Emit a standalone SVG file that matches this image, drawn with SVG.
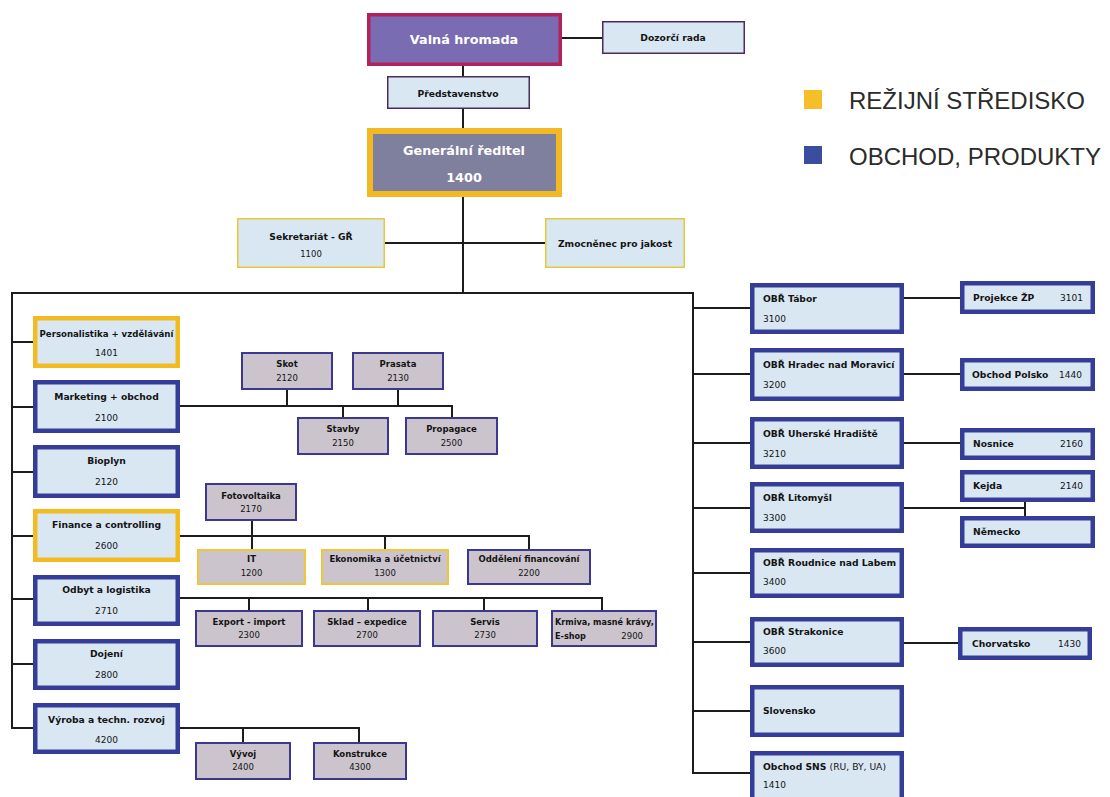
<svg xmlns="http://www.w3.org/2000/svg" width="1110" height="797" viewBox="0 0 1110 797">
  <style>
    .ln { stroke: #1c1c1c; stroke-width: 2; fill: none; }
    .bx-blue { fill: #d9e7f3; stroke: #363d98; stroke-width: 4.5; }
    .bx-yel { fill: #d9e7f3; stroke: #f2bb22; stroke-width: 4.5; }
    .gr-blue { fill: #cbc4cc; stroke: #3c3892; stroke-width: 2; }
    .gr-yel { fill: #cbc4cc; stroke: #efc53a; stroke-width: 2; }
    .lt-yel { fill: #d9e7f3; stroke: #e6c93a; stroke-width: 1.5; }
    .lt-dark { fill: #d9e7f3; stroke: #4a2b5c; stroke-width: 1.5; }
    text { font-family: "DejaVu Sans", Verdana, sans-serif; fill: #141414; }
    .nm { font-size: 9.2px; font-weight: bold; }
    .nm-s { font-size: 8.5px; font-weight: bold; }
    .no { font-size: 9px; }
    .no-s { font-size: 8.5px; }
    .c { text-anchor: middle; }
    .e { text-anchor: end; }
    .hd { font-size: 12.8px; font-weight: bold; fill: #ffffff; text-anchor: middle; }
    .lg { font-family: "Liberation Sans", Arial, sans-serif; font-size: 24px; fill: #2b2b2b; }
  </style>

  <rect width="1110" height="797" fill="#ffffff"/>

  <!-- connectors -->
  <g id="connectors">
    <!-- top management chain -->
    <line class="ln" x1="562" y1="38" x2="602" y2="38"/>
    <line class="ln" x1="463" y1="66" x2="463" y2="76"/>
    <line class="ln" x1="463" y1="109" x2="463" y2="128"/>
    <line class="ln" x1="463" y1="197" x2="463" y2="293"/>
    <line class="ln" x1="385" y1="243" x2="545" y2="243"/>
    <!-- main distribution bar -->
    <polyline class="ln" points="33,728 12,728 12,293 693,293 693,773 750,773"/>
    <!-- left branch stubs -->
    <line class="ln" x1="12" y1="342" x2="33" y2="342"/>
    <line class="ln" x1="12" y1="407" x2="33" y2="407"/>
    <line class="ln" x1="12" y1="472" x2="33" y2="472"/>
    <line class="ln" x1="12" y1="536" x2="33" y2="536"/>
    <line class="ln" x1="12" y1="599" x2="33" y2="599"/>
    <line class="ln" x1="12" y1="664" x2="33" y2="664"/>
    <!-- marketing sub-units -->
    <line class="ln" x1="180" y1="406" x2="452" y2="406"/>
    <line class="ln" x1="287" y1="390" x2="287" y2="406"/>
    <line class="ln" x1="398" y1="390" x2="398" y2="406"/>
    <line class="ln" x1="343" y1="406" x2="343" y2="417"/>
    <line class="ln" x1="452" y1="405" x2="452" y2="417"/>
    <!-- finance sub-units -->
    <line class="ln" x1="180" y1="536" x2="529" y2="536"/>
    <line class="ln" x1="252" y1="521" x2="252" y2="549"/>
    <line class="ln" x1="385" y1="536" x2="385" y2="549"/>
    <line class="ln" x1="529" y1="535" x2="529" y2="549"/>
    <!-- logistics sub-units -->
    <line class="ln" x1="180" y1="598" x2="602" y2="598"/>
    <line class="ln" x1="249" y1="598" x2="249" y2="610"/>
    <line class="ln" x1="368" y1="598" x2="368" y2="610"/>
    <line class="ln" x1="484" y1="598" x2="484" y2="610"/>
    <line class="ln" x1="602" y1="597" x2="602" y2="610"/>
    <!-- production sub-units -->
    <line class="ln" x1="180" y1="728" x2="359" y2="728"/>
    <line class="ln" x1="243" y1="728" x2="243" y2="742"/>
    <line class="ln" x1="359" y1="727" x2="359" y2="742"/>
    <!-- right branch stubs -->
    <line class="ln" x1="693" y1="308" x2="750" y2="308"/>
    <line class="ln" x1="693" y1="374" x2="750" y2="374"/>
    <line class="ln" x1="693" y1="443" x2="750" y2="443"/>
    <line class="ln" x1="693" y1="508" x2="750" y2="508"/>
    <line class="ln" x1="693" y1="573" x2="750" y2="573"/>
    <line class="ln" x1="693" y1="642" x2="750" y2="642"/>
    <line class="ln" x1="693" y1="711" x2="750" y2="711"/>
    <!-- regional sub-units -->
    <line class="ln" x1="904" y1="298" x2="960" y2="298"/>
    <line class="ln" x1="904" y1="374" x2="960" y2="374"/>
    <line class="ln" x1="904" y1="443" x2="960" y2="443"/>
    <polyline class="ln" points="904,508 1025,508"/>
    <line class="ln" x1="1025" y1="501" x2="1025" y2="516"/>
    <line class="ln" x1="904" y1="643" x2="958" y2="643"/>
  </g>

  <!-- legend -->
  <g id="legend">
    <rect x="804" y="90" width="18" height="19" fill="#f6bf2a"/>
    <text class="lg" x="849" y="109">REŽIJNÍ STŘEDISKO</text>
    <rect x="804" y="146" width="18" height="18" fill="#3a4d9e"/>
    <text class="lg" x="849" y="165">OBCHOD, PRODUKTY</text>
  </g>

  <!-- top management -->
  <g id="valna-hromada">
    <rect x="368.75" y="14.75" width="191.5" height="49.5" fill="#7a6cb2" stroke="#b3225c" stroke-width="3.5"/>
    <text class="hd" x="464" y="44">Valná hromada</text>
  </g>
  <g id="dozorci-rada">
    <rect class="lt-dark" x="602.75" y="21.75" width="141.5" height="31.5"/>
    <text class="nm c" x="673" y="41">Dozorčí rada</text>
  </g>
  <g id="predstavenstvo">
    <rect class="lt-dark" x="387.75" y="76.75" width="141.5" height="31.5"/>
    <text class="nm c" x="458" y="97">Představenstvo</text>
  </g>
  <g id="generalni-reditel">
    <rect x="370" y="131" width="189" height="63" fill="#7f7f9e" stroke="#f3b925" stroke-width="6"/>
    <text class="hd" x="464" y="155">Generální ředitel</text>
    <text class="hd" x="464" y="182">1400</text>
  </g>
  <g id="sekretariat">
    <rect class="lt-yel" x="237.75" y="218.75" width="146.5" height="48.5"/>
    <text class="nm c" x="311" y="240">Sekretariát - GŘ</text>
    <text class="no-s c" x="311" y="257">1100</text>
  </g>
  <g id="zmocnenec">
    <rect class="lt-yel" x="545.75" y="218.75" width="138.5" height="48.5"/>
    <text class="nm c" x="615" y="247">Zmocněnec pro jakost</text>
  </g>

  <!-- left column -->
  <g id="personalistika">
    <rect class="bx-yel" x="35.25" y="318.25" width="142.5" height="47.5"/>
    <text class="nm c" x="106.5" y="337" style="font-size:8.6px">Personalistika + vzdělávání</text>
    <text class="no c" x="106.5" y="356">1401</text>
  </g>
  <g id="marketing">
    <rect class="bx-blue" x="35.25" y="382.25" width="142.5" height="48.5"/>
    <text class="nm c" x="106.5" y="400">Marketing + obchod</text>
    <text class="no c" x="106.5" y="421">2100</text>
  </g>
  <g id="bioplyn">
    <rect class="bx-blue" x="35.25" y="447.25" width="142.5" height="48.5"/>
    <text class="nm c" x="106.5" y="464">Bioplyn</text>
    <text class="no c" x="106.5" y="485">2120</text>
  </g>
  <g id="finance">
    <rect class="bx-yel" x="35.25" y="511.25" width="142.5" height="48.5"/>
    <text class="nm c" x="106.5" y="528">Finance a controlling</text>
    <text class="no c" x="106.5" y="549">2600</text>
  </g>
  <g id="odbyt">
    <rect class="bx-blue" x="35.25" y="577.25" width="142.5" height="46.5"/>
    <text class="nm c" x="106.5" y="593">Odbyt a logistika</text>
    <text class="no c" x="106.5" y="614">2710</text>
  </g>
  <g id="dojeni">
    <rect class="bx-blue" x="35.25" y="641.25" width="142.5" height="46.5"/>
    <text class="nm c" x="106.5" y="657">Dojení</text>
    <text class="no c" x="106.5" y="678">2800</text>
  </g>
  <g id="vyroba">
    <rect class="bx-blue" x="35.25" y="705.25" width="142.5" height="46.5"/>
    <text class="nm c" x="106.5" y="723">Výroba a techn. rozvoj</text>
    <text class="no c" x="106.5" y="743">4200</text>
  </g>

  <!-- marketing sub-units -->
  <g id="skot">
    <rect class="gr-blue" x="242" y="353" width="90" height="36"/>
    <text class="nm-s c" x="287" y="367">Skot</text>
    <text class="no-s c" x="287" y="381">2120</text>
  </g>
  <g id="prasata">
    <rect class="gr-blue" x="353" y="353" width="90" height="36"/>
    <text class="nm-s c" x="398" y="367">Prasata</text>
    <text class="no-s c" x="398" y="381">2130</text>
  </g>
  <g id="stavby">
    <rect class="gr-blue" x="298" y="418" width="90" height="36"/>
    <text class="nm-s c" x="343" y="432">Stavby</text>
    <text class="no-s c" x="343" y="446">2150</text>
  </g>
  <g id="propagace">
    <rect class="gr-blue" x="406" y="418" width="91" height="36"/>
    <text class="nm-s c" x="451.5" y="432">Propagace</text>
    <text class="no-s c" x="451.5" y="446">2500</text>
  </g>

  <!-- finance sub-units -->
  <g id="fotovoltaika">
    <rect class="gr-blue" x="206" y="484" width="90" height="36"/>
    <text class="nm-s c" x="251" y="499">Fotovoltaika</text>
    <text class="no-s c" x="251" y="512">2170</text>
  </g>
  <g id="it">
    <rect class="gr-yel" x="198" y="550" width="107" height="34"/>
    <text class="nm-s c" x="251.5" y="562">IT</text>
    <text class="no-s c" x="251.5" y="576">1200</text>
  </g>
  <g id="ekonomika">
    <rect class="gr-yel" x="322" y="550" width="126" height="34"/>
    <text class="nm-s c" x="385" y="562">Ekonomika a účetnictví</text>
    <text class="no-s c" x="385" y="576">1300</text>
  </g>
  <g id="financovani">
    <rect class="gr-blue" x="468" y="550" width="122" height="34"/>
    <text class="nm-s c" x="529" y="562">Oddělení financování</text>
    <text class="no-s c" x="529" y="576">2200</text>
  </g>

  <!-- logistics sub-units -->
  <g id="export">
    <rect class="gr-blue" x="196" y="611" width="106" height="35"/>
    <text class="nm-s c" x="249" y="625">Export - import</text>
    <text class="no-s c" x="249" y="638">2300</text>
  </g>
  <g id="sklad">
    <rect class="gr-blue" x="314" y="611" width="106" height="35"/>
    <text class="nm-s c" x="367" y="625">Sklad – expedice</text>
    <text class="no-s c" x="367" y="638">2700</text>
  </g>
  <g id="servis">
    <rect class="gr-blue" x="433" y="611" width="104" height="35"/>
    <text class="nm-s c" x="485" y="625">Servis</text>
    <text class="no-s c" x="485" y="638">2730</text>
  </g>
  <g id="krmiva">
    <rect class="gr-blue" x="552" y="611" width="104" height="35"/>
    <text class="nm-s" x="555" y="625" style="font-size:8.1px">Krmiva, masné krávy,</text>
    <text class="nm-s" x="555" y="639" style="font-size:8.1px">E-shop</text>
    <text class="no-s e" x="643" y="639">2900</text>
  </g>

  <!-- production sub-units -->
  <g id="vyvoj">
    <rect class="gr-blue" x="196" y="743" width="94" height="36"/>
    <text class="nm-s c" x="243" y="757">Vývoj</text>
    <text class="no-s c" x="243" y="770">2400</text>
  </g>
  <g id="konstrukce">
    <rect class="gr-blue" x="314" y="743" width="92" height="36"/>
    <text class="nm-s c" x="360" y="757">Konstrukce</text>
    <text class="no-s c" x="360" y="770">4300</text>
  </g>

  <!-- right column: regional branches -->
  <g id="obr-tabor">
    <rect class="bx-blue" x="752.25" y="285.25" width="149.5" height="46.5"/>
    <text class="nm" x="763" y="302">OBŘ Tábor</text>
    <text class="no" x="763" y="322">3100</text>
  </g>
  <g id="obr-hradec">
    <rect class="bx-blue" x="752.25" y="350.25" width="149.5" height="48.5"/>
    <text class="nm" x="763" y="368">OBŘ Hradec nad Moravicí</text>
    <text class="no" x="763" y="388">3200</text>
  </g>
  <g id="obr-uherske">
    <rect class="bx-blue" x="752.25" y="419.25" width="149.5" height="47.5"/>
    <text class="nm" x="763" y="437">OBŘ Uherské Hradiště</text>
    <text class="no" x="763" y="457">3210</text>
  </g>
  <g id="obr-litomysl">
    <rect class="bx-blue" x="752.25" y="484.25" width="149.5" height="46.5"/>
    <text class="nm" x="763" y="501">OBŘ Litomyšl</text>
    <text class="no" x="763" y="521">3300</text>
  </g>
  <g id="obr-roudnice">
    <rect class="bx-blue" x="752.25" y="550.25" width="149.5" height="45.5"/>
    <text class="nm" x="763" y="566">OBŘ Roudnice nad Labem</text>
    <text class="no" x="763" y="585">3400</text>
  </g>
  <g id="obr-strakonice">
    <rect class="bx-blue" x="752.25" y="619.25" width="149.5" height="45.5"/>
    <text class="nm" x="763" y="635">OBŘ Strakonice</text>
    <text class="no" x="763" y="654">3600</text>
  </g>
  <g id="slovensko">
    <rect class="bx-blue" x="752.25" y="687.25" width="149.5" height="47.5"/>
    <text class="nm" x="763" y="714">Slovensko</text>
  </g>
  <g id="obchod-sns">
    <rect class="bx-blue" x="752.25" y="753.25" width="149.5" height="52"/>
    <text class="nm" x="763" y="770">Obchod SNS <tspan font-weight="normal">(RU, BY, UA)</tspan></text>
    <text class="no" x="763" y="788">1410</text>
  </g>

  <!-- right column: attached units -->
  <g id="projekce">
    <rect class="bx-blue" x="962.25" y="283.25" width="130.5" height="28.5"/>
    <text class="nm" x="973" y="301">Projekce ŽP</text>
    <text class="no e" x="1083" y="301">3101</text>
  </g>
  <g id="polsko">
    <rect class="bx-blue" x="962.25" y="360.25" width="130.5" height="28.5"/>
    <text class="nm" x="972" y="378">Obchod Polsko</text>
    <text class="no e" x="1082" y="378">1440</text>
  </g>
  <g id="nosnice">
    <rect class="bx-blue" x="962.25" y="430.25" width="130.5" height="27.5"/>
    <text class="nm" x="973" y="447">Nosnice</text>
    <text class="no e" x="1083" y="447">2160</text>
  </g>
  <g id="kejda">
    <rect class="bx-blue" x="962.25" y="472.25" width="130.5" height="27.5"/>
    <text class="nm" x="973" y="489">Kejda</text>
    <text class="no e" x="1083" y="489">2140</text>
  </g>
  <g id="nemecko">
    <rect class="bx-blue" x="962.25" y="518.25" width="130.5" height="27.5"/>
    <text class="nm" x="973" y="535">Německo</text>
  </g>
  <g id="chorvatsko">
    <rect class="bx-blue" x="960.25" y="629.25" width="129.5" height="28.5"/>
    <text class="nm" x="972" y="647">Chorvatsko</text>
    <text class="no e" x="1081" y="647">1430</text>
  </g>
</svg>
